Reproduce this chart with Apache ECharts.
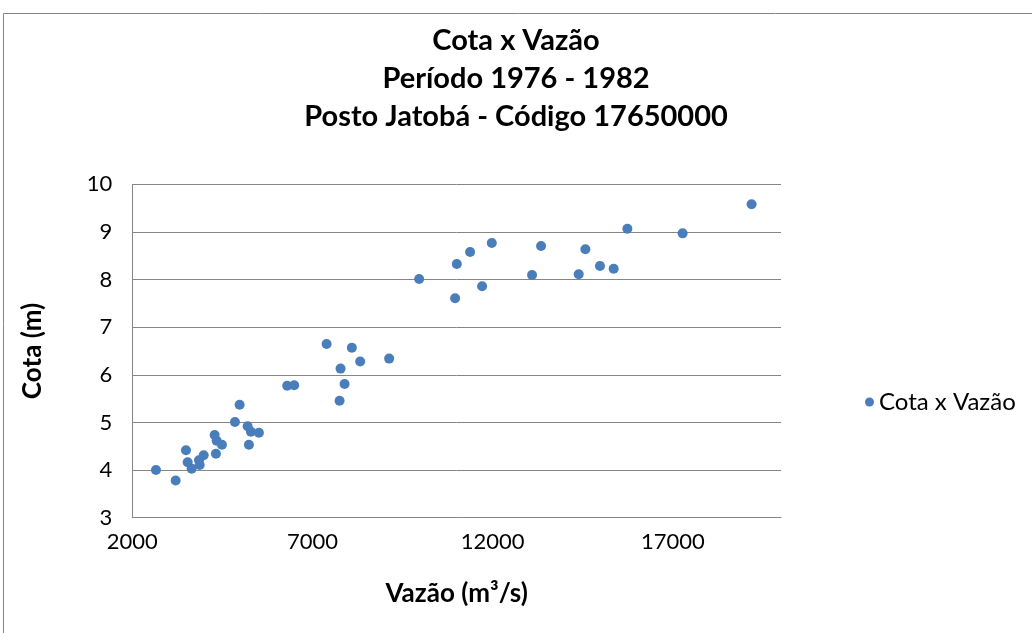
<!DOCTYPE html>
<html>
<head>
<meta charset="utf-8">
<script src="https://cdn.jsdelivr.net/npm/echarts@6/dist/echarts.min.js"></script>
<style>html,body{margin:0;padding:0;background:#fff;}#c{width:1032px;height:633px;}</style>
</head>
<body>
<div id="c"></div>
<script>
const vazao = [2657,3203,3489,3536,3647,3850,3869,3980,4285,4340,4487,4321,4848,4978,5200,5292,5513,5236,6298,6492,7391,8092,7779,8323,9127,7890,7751,9959,11004,10957,11373,11706,11975,13092,13342,14387,14572,14977,15357,15737,17270,19184];
const cota = [4.00,3.78,4.415,4.163,4.03,4.205,4.106,4.31,4.736,4.617,4.533,4.344,5.01,5.372,4.919,4.806,4.785,4.533,5.77,5.78,6.647,6.57,6.13,6.28,6.34,5.807,5.457,8.01,8.327,7.606,8.578,7.858,8.767,8.096,8.703,8.11,8.635,8.285,8.228,9.068,8.97,9.58];
const xTicks = [2000,7000,12000,17000];
const titleLines = ['Cota x Vazão','Período 1976 - 1982','Posto Jatobá - Código 17650000'];
const seriesName = 'Cota x Vazão';

const points = vazao.map((v,i)=>[v,cota[i]]);
const font = 'Lato, "Open Sans", sans-serif';
const chart = echarts.init(document.getElementById('c'), null, {renderer:'canvas'});
chart.setOption({
  animation:false,
  backgroundColor:'#fff',
  graphic:[{type:'rect',shape:{x:3.5,y:13.5,width:1100,height:700},style:{fill:'none',stroke:'#868686',lineWidth:1},silent:true}],
  title:{text:titleLines.join('\n'),left:'center',top:17,textStyle:{fontFamily:font,fontWeight:'bold',fontSize:29,color:'#000',lineHeight:38}},
  legend:{data:[seriesName],left:860,top:385,icon:'circle',itemWidth:9,itemHeight:9,itemGap:6,textStyle:{fontFamily:font,fontSize:24,color:'#000'}},
  grid:{left:132.3,top:184.3,right:251,bottom:115.3,containLabel:false},
  xAxis:{type:'value',min:2000,max:20000,interval:5000,
    name:'Vazão (m³/s)',nameLocation:'middle',nameGap:63,nameTextStyle:{fontFamily:font,fontWeight:'bold',fontSize:26,color:'#000'},
    axisLine:{show:true,onZero:false,lineStyle:{color:'#868686',width:1}},axisTick:{show:false},splitLine:{show:false},
    axisLabel:{margin:13,fontFamily:font,fontSize:22,color:'#000',formatter:v=>xTicks.includes(v)?String(v):''}},
  yAxis:{type:'value',min:3,max:10,interval:1,
    name:'Cota (m)',nameLocation:'middle',nameRotate:90,nameGap:87,nameTextStyle:{fontFamily:font,fontWeight:'bold',fontSize:26,color:'#000'},
    axisLine:{show:true,lineStyle:{color:'#868686',width:1}},axisTick:{show:false},
    splitLine:{show:true,lineStyle:{color:'#868686',width:1}},
    axisLabel:{margin:20,fontFamily:font,fontSize:22,color:'#000'}},
  series:[{name:seriesName,type:'scatter',data:points,symbol:'circle',symbolSize:10,itemStyle:{color:'#4a7ebb',opacity:1}}]
});
</script>
</body>
</html>
